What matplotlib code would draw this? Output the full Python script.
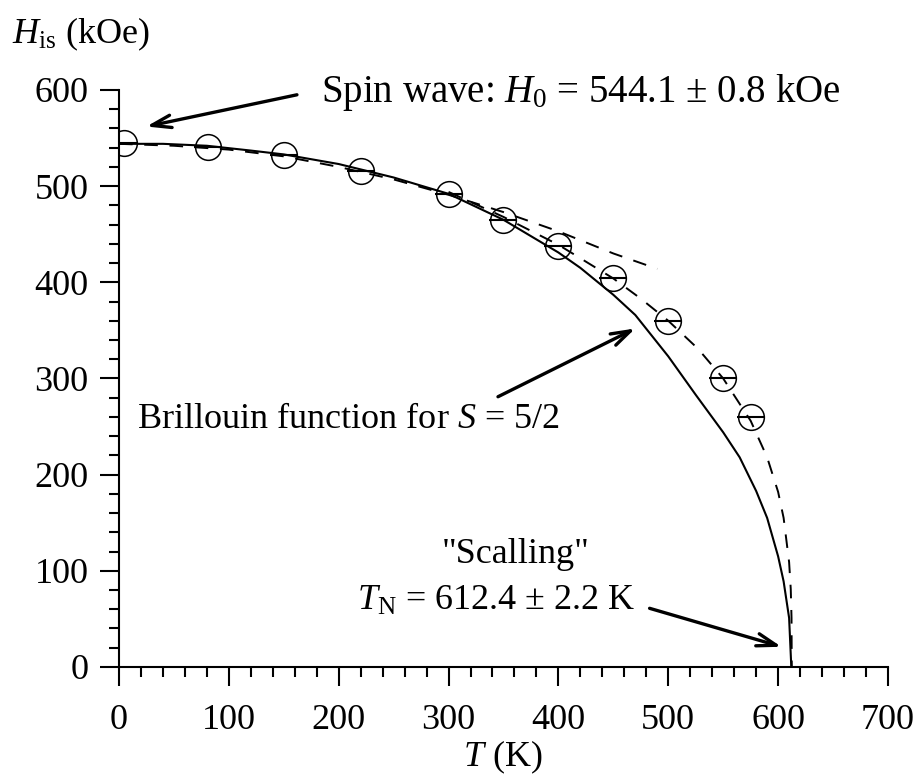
import matplotlib
matplotlib.use("Agg")
import matplotlib.pyplot as plt
from matplotlib.ticker import MultipleLocator

plt.rcParams['font.family'] = ['Liberation Serif', 'DejaVu Serif']
plt.rcParams['mathtext.fontset'] = 'custom'
plt.rcParams['mathtext.rm'] = 'Liberation Serif'
plt.rcParams['mathtext.it'] = 'Liberation Serif:italic'

# measured points
T_data = [5, 81, 150, 220, 300, 350, 400, 450, 500, 550, 575]
H_data = [545, 541, 532, 516, 492, 465, 438, 404, 360, 301, 260]

# Brillouin S=5/2 curve (solid)
T_bril = [0, 40, 80, 120, 150, 200, 250, 300, 350, 400, 420, 450, 470, 500, 525, 550, 565, 580, 590, 600, 605, 610, 612]
H_bril = [544, 544, 542, 537, 533, 523, 509, 492, 465, 431, 415, 387, 366, 323, 283, 244, 218, 183, 155, 115, 89, 51, 0]

# spin wave fit (dashed, upper)
T_sw = [0, 50, 100, 150, 200, 250, 300, 350, 400, 450, 490]
H_sw = [544, 542, 538, 531, 520, 507, 491, 473, 453, 430, 414]

# scaling fit (dashed, lower)
T_sc = [300, 350, 400, 450, 475, 500, 527, 550, 575, 590, 600, 605, 610, 611.5, 612.2, 612.4]
H_sc = [494, 468, 439, 404, 383, 360, 331, 300, 256, 218, 182, 155, 109, 81, 51, 0]

fig = plt.figure(figsize=(9.18, 7.75), dpi=100)
ax = fig.add_axes([0.1296, 0.1394, 0.8377, 0.7445])

ax.plot(T_bril, H_bril, color='black', lw=1.5)
ax.plot(T_sw, H_sw, color='black', lw=1.4, dashes=(7, 6))
ax.plot(T_sc, H_sc, color='black', lw=1.4, dashes=(7, 6))
ax.plot(T_data, H_data, 'o', ms=18.5, mfc='none', mec='black', mew=1.1)
ax.plot(T_data, H_data, '_', ms=19.5, mec='black', mew=1.5)

ax.set_xlim(0, 700)
ax.set_ylim(0, 600)
ax.spines['top'].set_visible(False)
ax.spines['right'].set_visible(False)
ax.spines['left'].set_linewidth(1.5)
ax.spines['bottom'].set_linewidth(1.5)
ax.xaxis.set_major_locator(MultipleLocator(100))
ax.xaxis.set_minor_locator(MultipleLocator(20))
ax.yaxis.set_major_locator(MultipleLocator(100))
ax.yaxis.set_minor_locator(MultipleLocator(20))
ax.tick_params(axis='x', which='major', direction='out', length=14, width=1.5, pad=13, labelsize=26)
ax.tick_params(axis='x', which='minor', direction='out', length=7.5, width=1.5)
ax.tick_params(axis='y', which='major', direction='out', length=14, width=1.5, pad=8, labelsize=26)
ax.tick_params(axis='y', which='minor', direction='out', length=7.5, width=1.5)

fig.text(12 / 918, 1 - 43 / 775, r'$H_{\rm is}$ (kOe)', fontsize=26, va='baseline', ha='left')
fig.text(503 / 918, 1 - 766 / 775, r'$T$ (K)', fontsize=26, va='baseline', ha='center')

arrow = dict(arrowstyle='->,head_length=1.4,head_width=0.45', lw=2.4, color='black',
             shrinkA=0, shrinkB=0)

ax.text(184, 587.5, r'Spin wave: $H_0$ = 544.1 $\pm$ 0.8 kOe', fontsize=28, va='baseline', ha='left')
ax.annotate('', xy=(25, 562), xytext=(162, 595), arrowprops=arrow)

ax.text(16, 248.5, r'Brillouin function for $S$ = 5/2', fontsize=26, va='baseline', ha='left')
ax.annotate('', xy=(470, 352), xytext=(345, 281), arrowprops=arrow)

ax.text(361, 108, '"Scalling"', fontsize=26, va='baseline', ha='center')
ax.text(217, 59, r'$T_{\rm N}$ = 612.4 $\pm$ 2.2 K', fontsize=26, va='baseline', ha='left')
ax.annotate('', xy=(603, 21), xytext=(483, 61), arrowprops=arrow)

plt.savefig('out.png', dpi=100)
